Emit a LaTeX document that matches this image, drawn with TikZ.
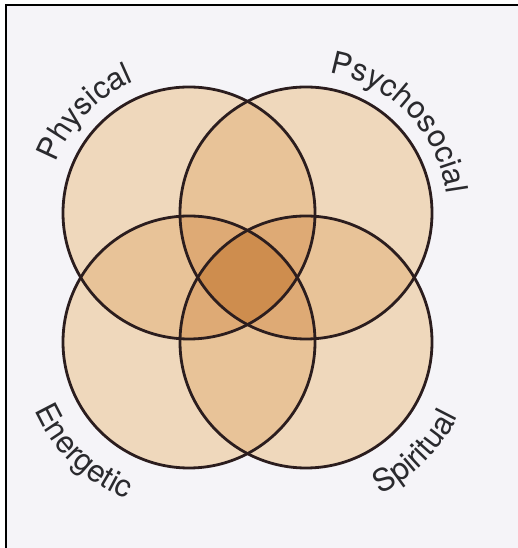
\documentclass[tikz,border=0pt]{standalone}
\usepackage{fontspec}
\setmainfont{TeX Gyre Heros}
\usetikzlibrary{decorations.text}
\definecolor{bgc}{HTML}{F5F4F8}
\definecolor{cone}{HTML}{EFD8BC}
\definecolor{ctwo}{HTML}{E8C398}
\definecolor{cthree}{HTML}{DEAA75}
\definecolor{cfour}{HTML}{CE8D4E}
\definecolor{linec}{HTML}{2B1D1E}
\definecolor{lblc}{HTML}{2A2A2E}
\newcommand\lblfont{\fontsize{31}{31}\selectfont}
\begin{document}
\begin{tikzpicture}[x=1pt,y=1pt,
  ring/.style={draw=linec,line width=2.8pt},
  lbl/.style={decorate,decoration={text along path,text align=center,text color=lblc}}]
\useasboundingbox (0,0) rectangle (518,548);
\fill[white] (0,0) rectangle (518,548);
\fill[bgc] (6,0) rectangle (518,543);
\draw[line width=2pt] (6,0) -- (6,543) -- (518,543);
\def\R{126}
\coordinate (TL) at (189,335);
\coordinate (TR) at (306,335);
\coordinate (BL) at (189,206);
\coordinate (BR) at (306,206);
\foreach \c in {TL,TR,BL,BR} \fill[cone] (\c) circle[radius=\R];
\foreach \a/\b in {TL/TR,TL/BL,TL/BR,TR/BL,TR/BR,BL/BR}{
  \begin{scope}\clip (\a) circle[radius=\R]; \fill[ctwo] (\b) circle[radius=\R];\end{scope}}
\foreach \a/\b/\c in {TL/TR/BL,TL/TR/BR,TL/BL/BR,TR/BL/BR}{
  \begin{scope}\clip (\a) circle[radius=\R]; \clip (\b) circle[radius=\R]; \fill[cthree] (\c) circle[radius=\R];\end{scope}}
\begin{scope}\clip (TL) circle[radius=\R]; \clip (TR) circle[radius=\R]; \clip (BL) circle[radius=\R]; \fill[cfour] (BR) circle[radius=\R];\end{scope}
\foreach \c in {TL,TR,BL,BR} \draw[ring] (\c) circle[radius=\R];
\path[lbl,decoration={text={|\lblfont|Physical}}] (TL) ++(181:142) arc[start angle=181,end angle=91,radius=142];
\path[lbl,decoration={text={|\lblfont|Psychosocial}}] (TR) ++(89:142) arc[start angle=89,end angle=-1,radius=142];
\path[lbl,decoration={text={|\lblfont|Energetic}}] (BL) ++(181:169) arc[start angle=181,end angle=271,radius=169];
\path[lbl,decoration={text={|\lblfont|Spiritual}}] (BR) ++(270:169) arc[start angle=270,end angle=360,radius=169];
\end{tikzpicture}
\end{document}
